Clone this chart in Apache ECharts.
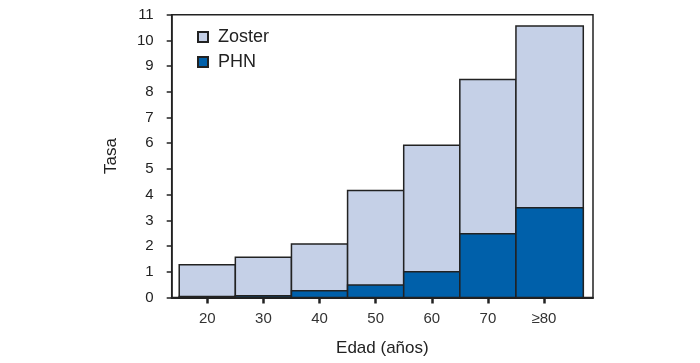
<!DOCTYPE html>
<html>
<head>
<meta charset="utf-8">
<script src="https://cdn.jsdelivr.net/npm/echarts@6/dist/echarts.min.js"></script>
<style>html,body{margin:0;padding:0;background:#fff}#c{width:700px;height:363px}</style>
</head>
<body>
<div id="c"></div>
<script>
// Data
var binStart = [15, 25, 35, 45, 55, 65, 75];
var binEnd   = [25, 35, 45, 55, 65, 75, 87];
var tickValues = [20, 30, 40, 50, 60, 70, 80];
var tickLabels = ['20', '30', '40', '50', '60', '70', '≥80'];
var zoster = [1.27, 1.57, 2.08, 4.16, 5.92, 8.48, 10.56];
var phn    = [0.04, 0.07, 0.26, 0.49, 1.0, 2.48, 3.49];

var FONT = '"Liberation Sans", Arial, Helvetica, sans-serif';
var lightC = '#c5d0e7', darkC = '#0060aa', lineC = '#222';

function mkData(vals) {
  return vals.map(function (v, i) { return [binStart[i], binEnd[i], v]; });
}
function renderRect(params, api) {
  var p1 = api.coord([api.value(0), api.value(2)]);
  var p2 = api.coord([api.value(1), 0]);
  return {
    type: 'rect',
    shape: { x: p1[0], y: p1[1], width: p2[0] - p1[0], height: p2[1] - p1[1] },
    style: { fill: api.visual('color'), stroke: lineC, lineWidth: 1.5 }
  };
}

var chart = echarts.init(document.getElementById('c'), null, { renderer: 'canvas' });
chart.setOption({
  animation: false,
  textStyle: { fontFamily: FONT },
  grid: { left: 171.7, right: 107, top: 14.7, bottom: 65.5, show: true, borderColor: lineC, borderWidth: 1.5, backgroundColor: 'transparent' },
  legend: {
    orient: 'vertical', left: 192, top: 23, itemWidth: 10, itemHeight: 10, itemGap: 7,
    icon: 'rect',
    textStyle: { fontFamily: FONT, fontSize: 18, color: '#222', padding: [0, 0, 0, 5] },
    data: ['Zoster', 'PHN']
  },
  xAxis: {
    type: 'value', min: 13.66, max: 88.73,
    name: 'Edad (años)', nameLocation: 'middle', nameGap: 42,
    nameTextStyle: { fontFamily: FONT, fontSize: 17, color: '#222' },
    axisLine: { show: true, lineStyle: { color: lineC, width: 2 } },
    axisTick: { show: true, customValues: tickValues, length: 6, lineStyle: { color: lineC, width: 2.5 } },
    axisLabel: {
      customValues: tickValues, margin: 14, fontSize: 15, color: '#333', fontFamily: FONT,
      formatter: function (v) { var i = tickValues.indexOf(v); return i >= 0 ? tickLabels[i] : ''; }
    },
    splitLine: { show: false }
  },
  yAxis: {
    type: 'value', min: 0, max: 11, interval: 1,
    name: 'Tasa', nameLocation: 'middle', nameGap: 52,
    nameTextStyle: { fontFamily: FONT, fontSize: 17, color: '#222' },
    axisLine: { show: true, lineStyle: { color: lineC, width: 1.5 } },
    axisTick: { show: true, length: 5, lineStyle: { color: lineC, width: 1.5 } },
    axisLabel: { margin: 18, fontSize: 15, color: '#222', fontFamily: FONT },
    splitLine: { show: false }
  },
  series: [
    { name: 'Zoster', type: 'custom', renderItem: renderRect, encode: { x: [0, 1], y: 2 },
      itemStyle: { color: lightC, borderColor: lineC, borderWidth: 1 }, data: mkData(zoster) },
    { name: 'PHN', type: 'custom', renderItem: renderRect, encode: { x: [0, 1], y: 2 },
      itemStyle: { color: darkC, borderColor: lineC, borderWidth: 1 }, data: mkData(phn) }
  ]
});
</script>
</body>
</html>
